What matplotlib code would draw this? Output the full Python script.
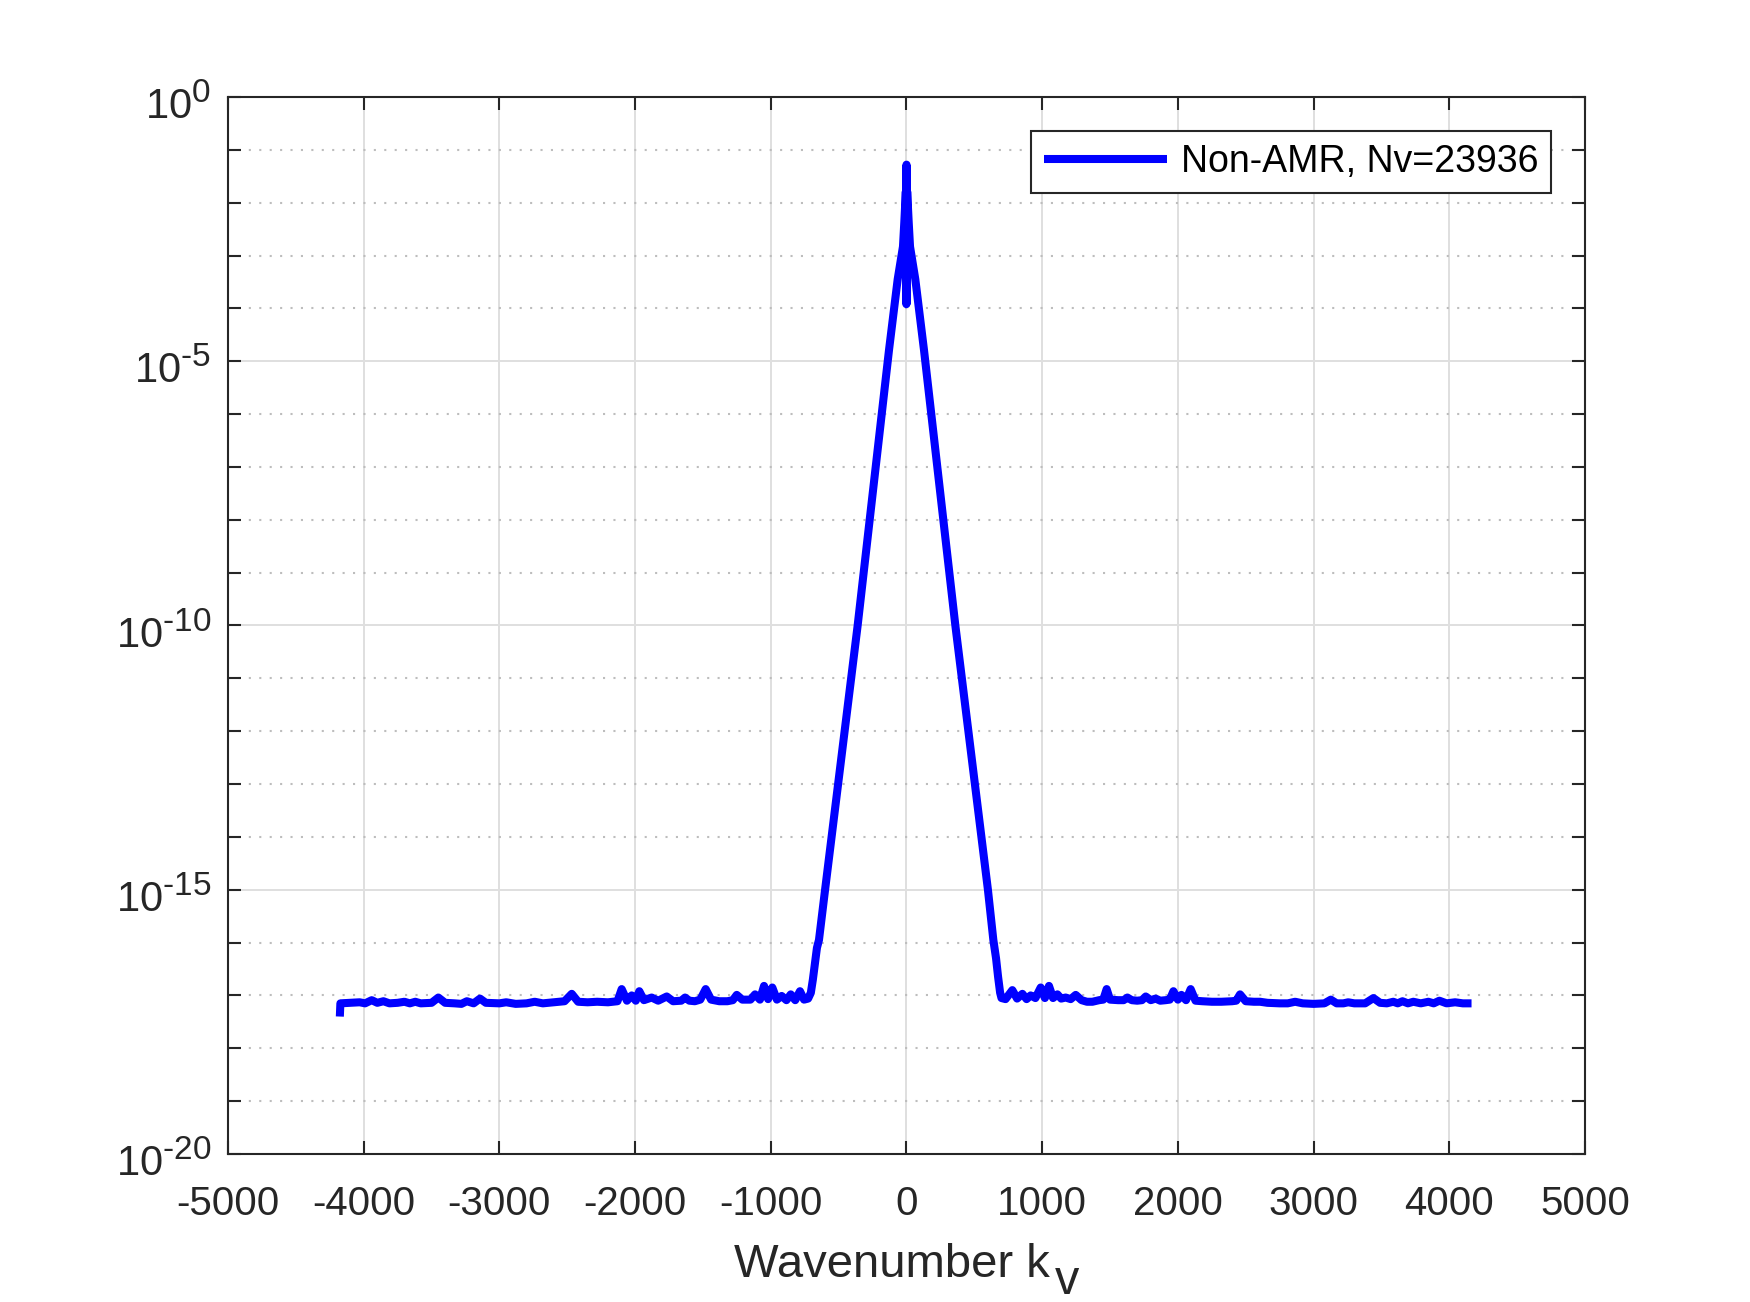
import numpy as np
import matplotlib
matplotlib.use("Agg")
import matplotlib.pyplot as plt
import matplotlib.transforms as mtransforms
import matplotlib._mathtext as _mt
from matplotlib.ticker import NullFormatter

_mt.SHRINK_FACTOR = 0.8  # MATLAB-like larger superscripts

plt.rcParams['font.family'] = ['Liberation Sans', 'DejaVu Sans']
plt.rcParams['mathtext.fontset'] = 'custom'
plt.rcParams['mathtext.rm'] = 'Liberation Sans'
plt.rcParams['mathtext.it'] = 'Liberation Sans:italic'
plt.rcParams['axes.unicode_minus'] = False

# ---------------- data ----------------
series_label = "Non-AMR, Nv=23936"

# wavenumber k_v
k_left_floor = [-4176, -4172, -4100, -4030, -3990, -3941, -3900, -3855, -3810, -3750,
                -3700, -3660, -3620, -3580, -3500, -3450, -3400, -3330, -3280, -3240,
                -3190, -3143, -3100, -3000, -2950, -2880, -2800, -2740, -2680, -2600,
                -2520, -2467, -2420, -2350, -2280, -2200, -2130, -2099, -2060, -2025,
                -1995, -1969, -1935, -1878, -1830, -1767, -1720, -1660, -1632, -1600,
                -1560, -1520, -1480, -1440, -1380, -1320, -1280, -1251, -1210, -1150,
                -1116, -1080, -1050, -1020, -989, -955, -920, -885, -853, -820,
                -785, -755, -725]
exp_left_floor = [-17.40, -17.15, -17.14, -17.13, -17.15, -17.09, -17.14, -17.11, -17.15, -17.14,
                  -17.12, -17.15, -17.12, -17.15, -17.14, -17.04, -17.14, -17.15, -17.16, -17.11,
                  -17.15, -17.06, -17.14, -17.15, -17.13, -17.16, -17.15, -17.12, -17.15, -17.13,
                  -17.11, -16.97, -17.12, -17.13, -17.12, -17.13, -17.11, -16.88, -17.10, -17.00,
                  -17.10, -16.92, -17.09, -17.04, -17.10, -17.02, -17.11, -17.10, -17.04, -17.10,
                  -17.11, -17.08, -16.88, -17.08, -17.11, -17.11, -17.09, -16.99, -17.08, -17.08,
                  -16.98, -17.08, -16.82, -17.07, -16.85, -17.08, -17.01, -17.09, -16.98, -17.09,
                  -16.92, -17.08, -17.06]

k_peak = [-705, -690, -675, -660, -645, -600, -360, -129, -65, -26, -16, -5, -1, 0, 1, 5,
          16, 26, 65, 129, 360, 600, 640, 660, 675, 690, 700]
exp_peak = [-16.95, -16.70, -16.40, -16.10, -15.95, -15.00, -10.00, -4.79, -3.45, -2.83, -2.36,
            -1.79, -3.92, -1.28, -3.90, -1.79, -2.36, -2.83, -3.45, -4.79, -10.00, -15.00,
            -15.95, -16.30, -16.65, -16.95, -17.05]

k_right_floor = [730, 780, 815, 854, 885, 915, 950, 989, 1020, 1050,
                 1080, 1112, 1140, 1173, 1210, 1247, 1290, 1330, 1370, 1420,
                 1450, 1475, 1500, 1560, 1600, 1628, 1660, 1700, 1735, 1763,
                 1800, 1836, 1870, 1910, 1940, 1967, 2000, 2026, 2060, 2094,
                 2130, 2180, 2250, 2320, 2400, 2430, 2458, 2500, 2560, 2606,
                 2660, 2750, 2810, 2864, 2920, 3000, 3080, 3127, 3170, 3220,
                 3255, 3300, 3380, 3441, 3490, 3540, 3587, 3620, 3655, 3695,
                 3735, 3790, 3846, 3885, 3927, 3980, 4043, 4100, 4164]
exp_right_floor = [-17.07, -16.90, -17.06, -16.97, -17.07, -17.00, -17.05, -16.85, -17.05, -16.82,
                   -17.05, -16.98, -17.06, -17.04, -17.07, -16.99, -17.09, -17.12, -17.12, -17.09,
                   -17.08, -16.88, -17.08, -17.09, -17.09, -17.04, -17.09, -17.10, -17.09, -17.02,
                   -17.09, -17.06, -17.10, -17.09, -17.08, -16.92, -17.08, -16.99, -17.09, -16.88,
                   -17.10, -17.11, -17.12, -17.12, -17.11, -17.10, -16.98, -17.11, -17.12, -17.12,
                   -17.14, -17.15, -17.15, -17.12, -17.15, -17.16, -17.15, -17.08, -17.15, -17.15,
                   -17.13, -17.15, -17.15, -17.05, -17.14, -17.15, -17.12, -17.15, -17.11, -17.15,
                   -17.12, -17.15, -17.12, -17.15, -17.10, -17.15, -17.13, -17.15, -17.15]

x_ticks = [-5000, -4000, -3000, -2000, -1000, 0, 1000, 2000, 3000, 4000, 5000]
x_tick_labels = ["-5000", "-4000", "-3000", "-2000", "-1000", "0", "1000", "2000", "3000", "4000", "5000"]
y_major_exps = [-20, -15, -10, -5, 0]
y_tick_labels = [r"$\mathregular{10^{‐20}}$", r"$\mathregular{10^{‐15}}$", r"$\mathregular{10^{‐10}}$",
                 r"$\mathregular{10^{‐5}}$", r"$\mathregular{10^{0}}$"]
y_minor_exps = [-19, -18, -17, -16, -14, -13, -12, -11, -9, -8, -7, -6, -4, -3, -2, -1]
x_label_main = "Wavenumber k"
x_label_sub = "v"

# ---------------- plot ----------------
k = np.array(k_left_floor + k_peak + k_right_floor, dtype=float)
amp = 10.0 ** np.array(exp_left_floor + exp_peak + exp_right_floor)

axc = '#262626'
fig = plt.figure(figsize=(17.5, 13.02), dpi=100)
ax = fig.add_axes([0.1303, 0.1137, 0.7754, 0.8118])

ax.plot(k, amp, color=(0, 0, 1), linewidth=5.8, solid_joinstyle='round',
        solid_capstyle='butt', label=series_label, zorder=3)

ax.set_yscale('log')
ax.set_xlim(-5000, 5000)
ax.set_ylim(1e-20, 1)
ax.set_xticks(x_ticks)
ax.set_xticklabels(x_tick_labels)
ax.set_yticks([10.0 ** e for e in y_major_exps])
ax.set_yticklabels(y_tick_labels)
ax.set_yticks([10.0 ** e for e in y_minor_exps], minor=True)
ax.yaxis.set_minor_formatter(NullFormatter())
ax.xaxis.set_minor_locator(matplotlib.ticker.NullLocator())

ax.set_axisbelow(True)
ax.grid(which='major', color='#dfdfdf', linestyle='-', linewidth=1.4)
ax.yaxis.grid(which='minor', color='#bdbdbd', linestyle=(0, (1, 4)), linewidth=1.5)

for s in ax.spines.values():
    s.set_color(axc)
    s.set_linewidth(1.5)

ax.tick_params(which='both', direction='in', top=True, right=True, length=9.5,
               width=1.5, color=axc, labelcolor=axc, labelsize=29)
ax.tick_params(axis='x', which='both', pad=22)
ax.tick_params(axis='y', which='both', pad=12, labelsize=30)
yoff = mtransforms.ScaledTranslation(0, -16 / 72, fig.dpi_scale_trans)
for lab in ax.get_yticklabels():
    lab.set_verticalalignment('baseline')
    lab.set_transform(lab.get_transform() + yoff)

ax.set_xlabel(x_label_main, fontsize=34, color=axc, labelpad=15)
ax.xaxis.label.set_x(0.489)
ax.annotate(x_label_sub, xy=(1.0, 0.0), xycoords=ax.xaxis.label,
            xytext=(4, -4.5), textcoords='offset points', ha='left', va='baseline',
            fontsize=35, color=axc, annotation_clip=False)

leg = ax.legend(loc='upper right', fontsize=27, frameon=True, fancybox=False,
                edgecolor=axc, framealpha=1, borderaxespad=0.9, handlelength=3.3,
                handletextpad=0.35, borderpad=0.35)
leg.get_frame().set_linewidth(1.5)
for t in leg.get_texts():
    t.set_color('black')

fig.savefig('out.png', dpi=100)
